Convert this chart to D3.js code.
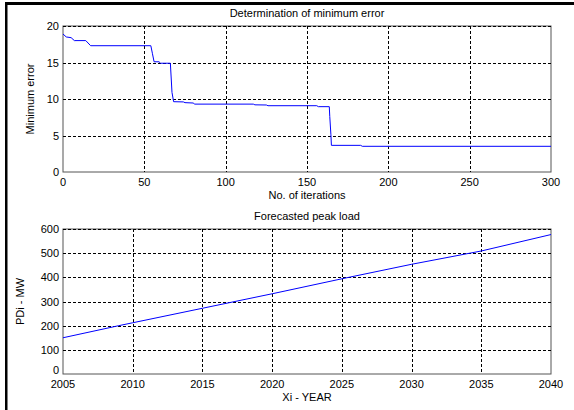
<!DOCTYPE html>
<html>
<head>
<meta charset="utf-8">
<script src="https://cdnjs.cloudflare.com/ajax/libs/d3/7.8.5/d3.min.js"></script>
<style>
  body { margin: 0; background: #fff; }
  svg text { font-family: "Liberation Sans", Arial, sans-serif; font-size: 11px; fill: #000; }
</style>
</head>
<body>
<div id="chart"></div>
<script>
// top plot: minimum error vs iteration (step points)
var iterX   = [0, 2, 5, 7, 14, 17, 54, 55, 56, 59, 60, 66, 67, 68, 74, 75, 80, 81, 117, 118, 125, 126, 156, 157, 163.7, 164, 164.7, 165, 183, 184, 300];
var errY    = [18.9, 18.5, 18.4, 18.0, 18.0, 17.3, 17.3, 16.2, 15.1, 15.1, 14.9, 14.9, 10.9, 9.63, 9.6, 9.5, 9.45, 9.3, 9.3, 9.2, 9.18, 9.08, 9.08, 8.95, 8.95, 7.6, 5.1, 3.65, 3.65, 3.52, 3.52];
var errXTicks = [0, 50, 100, 150, 200, 250, 300];
var errYTicks = [0, 5, 10, 15, 20];

// bottom plot: forecasted peak load
var years   = [2005, 2009, 2010, 2015, 2020, 2025, 2030, 2035, 2040];
var loadMW  = [150, 200, 212, 272, 332, 394, 454, 509, 577];
var yearTicks = [2005, 2010, 2015, 2020, 2025, 2030, 2035, 2040];
var loadTicks = [0, 100, 200, 300, 400, 500, 600];

var W = 574, H = 410;
var svg = d3.select("#chart").append("svg").attr("width", W).attr("height", H);

// outer frame (top and left edge visible)
svg.append("rect").attr("x", 5).attr("y", 2).attr("width", W - 5).attr("height", 3).attr("fill", "#000");
svg.append("rect").attr("x", 5).attr("y", 2).attr("width", 2.5).attr("height", H - 2).attr("fill", "#000");

function drawPanel(o) {
  var x = d3.scaleLinear().domain(o.xDomain).range([o.left, o.right]);
  var y = d3.scaleLinear().domain(o.yDomain).range([o.bottom, o.top]);
  var g = svg.append("g");

  g.append("rect").attr("x", o.left).attr("y", o.top)
    .attr("width", o.right - o.left).attr("height", o.bottom - o.top)
    .attr("fill", "#fff").attr("stroke", "#555").attr("stroke-width", 1);

  // grid
  o.xTicks.forEach(function(t) {
    if (t == o.xDomain[0] || t == o.xDomain[1]) return;
    g.append("line").attr("x1", Math.round(x(t)) + 0.5).attr("x2", Math.round(x(t)) + 0.5)
      .attr("y1", o.top).attr("y2", o.bottom)
      .attr("stroke", "#000").attr("stroke-dasharray", "3,2");
  });
  o.yTicks.forEach(function(t) {
    if (t == o.yDomain[0]) return;
    g.append("line").attr("y1", Math.round(y(t)) + 0.5).attr("y2", Math.round(y(t)) + 0.5)
      .attr("x1", o.left).attr("x2", o.right)
      .attr("stroke", "#000").attr("stroke-dasharray", "3,2");
  });

  // tick labels
  g.selectAll(".xt").data(o.xTicks).enter().append("text")
    .attr("x", function(d) { return x(d); }).attr("y", o.bottom + 14)
    .attr("text-anchor", "middle").text(function(d) { return d; });
  g.selectAll(".yt").data(o.yTicks).enter().append("text")
    .attr("x", o.left - 4)
    .attr("y", function(d) { return y(d) + (d == o.yDomain[0] ? o.zeroShift : 4); })
    .attr("text-anchor", "end").text(function(d) { return d; });

  // line
  var pts = o.xs.map(function(v, i) { return [v, o.ys[i]]; });
  g.append("path").datum(pts)
    .attr("d", d3.line().x(function(d) { return x(d[0]); }).y(function(d) { return y(d[1]); }))
    .attr("fill", "none").attr("stroke", "#0000ff").attr("stroke-width", 1);

  // labels
  g.append("text").attr("x", (o.left + o.right) / 2).attr("y", o.top - 9)
    .attr("text-anchor", "middle").text(o.title);
  g.append("text").attr("x", (o.left + o.right) / 2).attr("y", o.bottom + 27)
    .attr("text-anchor", "middle").text(o.xLabel);
  g.append("text").attr("transform", "translate(" + o.yLabelX + "," + (o.top + o.bottom) / 2 + ") rotate(-90)")
    .attr("text-anchor", "middle").text(o.yLabel);
}

drawPanel({
  left: 63, right: 551, top: 26, bottom: 172,
  xDomain: [0, 300], yDomain: [0, 20],
  xTicks: errXTicks, yTicks: errYTicks,
  xs: iterX, ys: errY, zeroShift: 4,
  title: "Determination of minimum error",
  xLabel: "No. of iterations",
  yLabel: "Minimum error", yLabelX: 34
});

drawPanel({
  left: 63, right: 551, top: 229, bottom: 374,
  xDomain: [2005, 2040], yDomain: [0, 600],
  xTicks: yearTicks, yTicks: loadTicks,
  xs: years, ys: loadMW, zeroShift: 0,
  title: "Forecasted peak load",
  xLabel: "Xi - YEAR",
  yLabel: "PDi - MW", yLabelX: 24
});
</script>
</body>
</html>
